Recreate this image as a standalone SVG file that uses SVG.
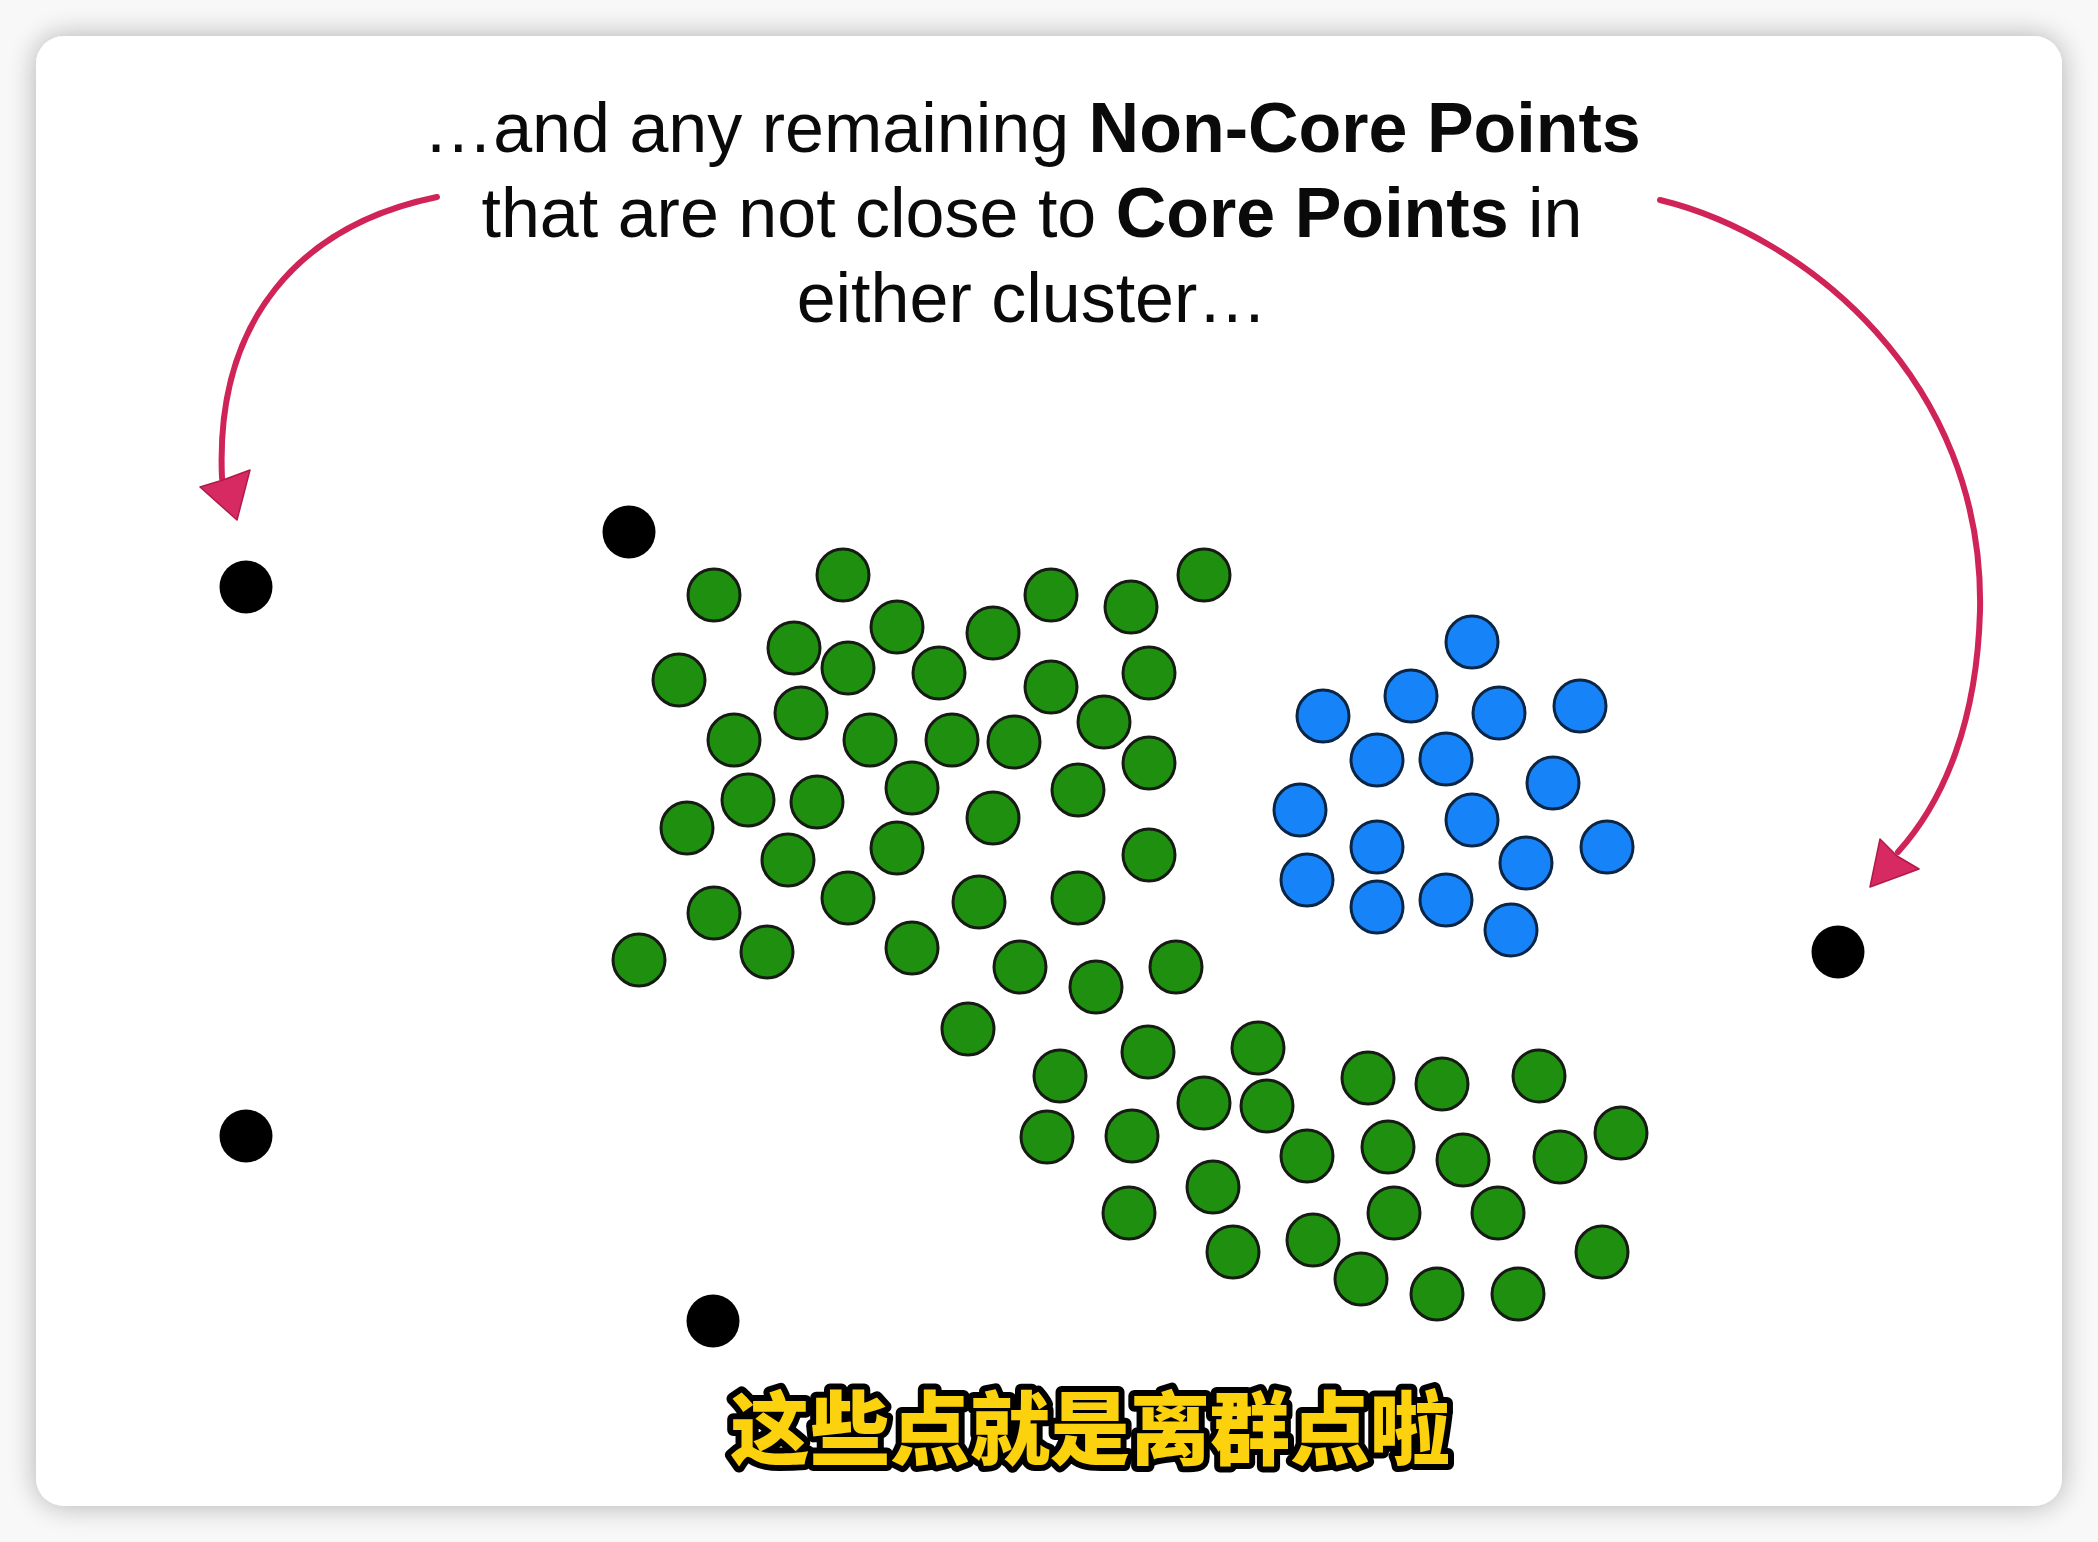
<svg xmlns="http://www.w3.org/2000/svg" width="2098" height="1542" viewBox="0 0 2098 1542">
<style>
.g{fill:#1f8f10;stroke:#161c14;stroke-width:3}
.b{fill:#1684f8;stroke:#0b2545;stroke-width:3}
.k{fill:#000}
.t{font-family:"Liberation Sans",Arial,sans-serif;font-size:70px;fill:#0a0a0a;text-anchor:middle}
.bold{font-weight:bold}
.arrow{fill:none;stroke:#d02358;stroke-width:6;stroke-linecap:round}
.head{fill:#d82a62;stroke:#b01a48;stroke-width:1.5;stroke-linejoin:round}
.sub{font-family:"Noto Sans CJK SC","Noto Sans CJK JP",sans-serif;font-weight:900;font-size:80px;fill:#fcd20f;stroke:#000;stroke-width:12;stroke-linejoin:round;paint-order:stroke;text-anchor:middle}
</style>
<defs>
<filter id="sh" x="-5%" y="-5%" width="110%" height="110%">
<feGaussianBlur in="SourceAlpha" stdDeviation="14"/>
<feComponentTransfer><feFuncA type="linear" slope="0.3"/></feComponentTransfer>
<feMerge><feMergeNode/><feMergeNode in="SourceGraphic"/></feMerge>
</filter>
</defs>
<rect width="2098" height="1542" fill="#f8f8f8"/>
<rect id="card" x="36" y="36" width="2026" height="1470" rx="28" fill="#fff" filter="url(#sh)"/>
<g id="title">
<text class="t" x="1032" y="152">…and any remaining <tspan class="bold">Non-Core Points</tspan></text>
<text class="t" x="1032" y="237">that are not close to <tspan class="bold">Core Points</tspan> in</text>
<text class="t" x="1032" y="322">either cluster…</text>
</g>
<g id="connectors">
<path class="arrow" d="M437,197 C300,225 215,320 222,478"/>
<polygon class="head" points="200,487 223,480 250,470 237,520"/>
<path class="arrow" d="M1660,200 C1805,235 1985,380 1980,611 C1977,720 1945,800 1898,852"/>
<polygon class="head" points="1880,839 1897,856 1919,869 1870,887"/>
</g>
<g id="outliers">
<circle class="k" cx="246" cy="587" r="26.5"/>
<circle class="k" cx="629" cy="532" r="26.5"/>
<circle class="k" cx="246" cy="1136" r="26.5"/>
<circle class="k" cx="713" cy="1321" r="26.5"/>
<circle class="k" cx="1838" cy="952" r="26.5"/>
</g>
<g id="green-cluster">
<circle class="g" cx="714" cy="595" r="26"/>
<circle class="g" cx="843" cy="575" r="26"/>
<circle class="g" cx="1051" cy="595" r="26"/>
<circle class="g" cx="1131" cy="607" r="26"/>
<circle class="g" cx="1204" cy="575" r="26"/>
<circle class="g" cx="897" cy="627" r="26"/>
<circle class="g" cx="993" cy="633" r="26"/>
<circle class="g" cx="794" cy="648" r="26"/>
<circle class="g" cx="848" cy="668" r="26"/>
<circle class="g" cx="939" cy="673" r="26"/>
<circle class="g" cx="679" cy="680" r="26"/>
<circle class="g" cx="1051" cy="687" r="26"/>
<circle class="g" cx="1149" cy="673" r="26"/>
<circle class="g" cx="801" cy="713" r="26"/>
<circle class="g" cx="734" cy="740" r="26"/>
<circle class="g" cx="870" cy="740" r="26"/>
<circle class="g" cx="952" cy="740" r="26"/>
<circle class="g" cx="1014" cy="742" r="26"/>
<circle class="g" cx="1104" cy="722" r="26"/>
<circle class="g" cx="1149" cy="763" r="26"/>
<circle class="g" cx="912" cy="788" r="26"/>
<circle class="g" cx="1078" cy="790" r="26"/>
<circle class="g" cx="748" cy="800" r="26"/>
<circle class="g" cx="817" cy="802" r="26"/>
<circle class="g" cx="993" cy="818" r="26"/>
<circle class="g" cx="687" cy="828" r="26"/>
<circle class="g" cx="788" cy="860" r="26"/>
<circle class="g" cx="897" cy="848" r="26"/>
<circle class="g" cx="1149" cy="855" r="26"/>
<circle class="g" cx="714" cy="913" r="26"/>
<circle class="g" cx="848" cy="898" r="26"/>
<circle class="g" cx="979" cy="902" r="26"/>
<circle class="g" cx="1078" cy="898" r="26"/>
<circle class="g" cx="639" cy="960" r="26"/>
<circle class="g" cx="767" cy="952" r="26"/>
<circle class="g" cx="912" cy="948" r="26"/>
<circle class="g" cx="1020" cy="967" r="26"/>
<circle class="g" cx="1096" cy="987" r="26"/>
<circle class="g" cx="1176" cy="967" r="26"/>
<circle class="g" cx="968" cy="1029" r="26"/>
<circle class="g" cx="1060" cy="1076" r="26"/>
<circle class="g" cx="1148" cy="1052" r="26"/>
<circle class="g" cx="1258" cy="1048" r="26"/>
<circle class="g" cx="1204" cy="1103" r="26"/>
<circle class="g" cx="1267" cy="1106" r="26"/>
<circle class="g" cx="1047" cy="1137" r="26"/>
<circle class="g" cx="1132" cy="1136" r="26"/>
<circle class="g" cx="1213" cy="1187" r="26"/>
<circle class="g" cx="1129" cy="1213" r="26"/>
<circle class="g" cx="1233" cy="1252" r="26"/>
<circle class="g" cx="1368" cy="1078" r="26"/>
<circle class="g" cx="1442" cy="1084" r="26"/>
<circle class="g" cx="1539" cy="1076" r="26"/>
<circle class="g" cx="1307" cy="1156" r="26"/>
<circle class="g" cx="1388" cy="1147" r="26"/>
<circle class="g" cx="1463" cy="1160" r="26"/>
<circle class="g" cx="1560" cy="1157" r="26"/>
<circle class="g" cx="1621" cy="1133" r="26"/>
<circle class="g" cx="1394" cy="1213" r="26"/>
<circle class="g" cx="1498" cy="1213" r="26"/>
<circle class="g" cx="1313" cy="1240" r="26"/>
<circle class="g" cx="1361" cy="1279" r="26"/>
<circle class="g" cx="1437" cy="1294" r="26"/>
<circle class="g" cx="1518" cy="1294" r="26"/>
<circle class="g" cx="1602" cy="1252" r="26"/>
</g>
<g id="blue-cluster">
<circle class="b" cx="1472" cy="642" r="26"/>
<circle class="b" cx="1411" cy="696" r="26"/>
<circle class="b" cx="1323" cy="716" r="26"/>
<circle class="b" cx="1499" cy="713" r="26"/>
<circle class="b" cx="1580" cy="706" r="26"/>
<circle class="b" cx="1377" cy="760" r="26"/>
<circle class="b" cx="1446" cy="759" r="26"/>
<circle class="b" cx="1553" cy="783" r="26"/>
<circle class="b" cx="1300" cy="810" r="26"/>
<circle class="b" cx="1472" cy="820" r="26"/>
<circle class="b" cx="1377" cy="847" r="26"/>
<circle class="b" cx="1607" cy="847" r="26"/>
<circle class="b" cx="1526" cy="863" r="26"/>
<circle class="b" cx="1307" cy="880" r="26"/>
<circle class="b" cx="1377" cy="907" r="26"/>
<circle class="b" cx="1446" cy="900" r="26"/>
<circle class="b" cx="1511" cy="930" r="26"/>
</g>
<g id="subtitle">
<text class="sub" x="1090" y="1458">这些点就是离群点啦</text>
</g>
</svg>
